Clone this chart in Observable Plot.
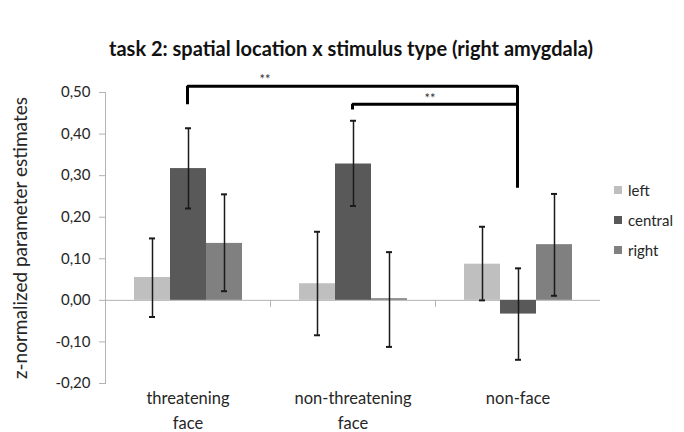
<!DOCTYPE html>
<html>
<head>
<meta charset="utf-8">
<script src="https://cdn.jsdelivr.net/npm/d3@7"></script>
<script src="https://cdn.jsdelivr.net/npm/@observablehq/plot@0.6"></script>
<style>
  html, body { margin: 0; padding: 0; background: #fff; }
  body { width: 684px; height: 432px; overflow: hidden; font-family: Lato, "Open Sans", sans-serif; color: #262626; }
  #title { height: 62px; box-sizing: border-box; padding-top: 38px; padding-left: 18px; text-align: center;
           font: bold 20px Lato, sans-serif; line-height: 1; color: #111; white-space: nowrap; }
  #row { display: flex; flex-direction: row; }
  #chart { position: relative; width: 600px; height: 370px; }
  #chart svg { position: absolute; left: 0; top: 0; }
  #legend { margin-top: 113px; margin-left: 14px; }
  #legend .lg-swatch { height: 30px !important; display: flex; align-items: center; padding: 0 !important; margin: 0 !important; }
  #legend .lg-swatches { font-family: Lato, sans-serif !important; font-size: 15px !important; color: #262626; margin: 0; }
  #legend .lg-swatch > svg { margin-right: 6px !important; }
  g[aria-label="y-axis label"] { font-size: 19px; }
</style>
</head>
<body>
<div id="title">task 2: spatial location x stimulus type (right amygdala)</div>
<div id="row">
  <div id="chart"></div>
  <div id="legend"></div>
</div>
<script>
// ---- data ----
const categories = ["threatening face", "non-threatening face", "non-face"];
const categoryLabels = ["threatening\nface", "non-threatening\nface", "non-face"];
const locations = ["left", "central", "right"];
const barColors = ["#bfbfbf", "#595959", "#808080"];

const leftMeans    = [0.055, 0.040, 0.087];
const centralMeans = [0.317, 0.328, -0.033];
const rightMeans   = [0.137, 0.004, 0.134];

const leftLow     = [-0.040, -0.084, 0.000];
const leftHigh    = [0.149, 0.165, 0.177];
const centralLow  = [0.221, 0.227, -0.143];
const centralHigh = [0.414, 0.432, 0.077];
const rightLow    = [0.022, -0.112, 0.011];
const rightHigh   = [0.255, 0.116, 0.256];

const yTicks = [-0.2, -0.1, 0, 0.1, 0.2, 0.3, 0.4, 0.5];
const yDomain = [-0.2, 0.5];
const yLabel = "z-normalized parameter estimates";

// significance brackets (between central bars)
const outerBracketCats   = ["threatening face", "threatening face", "non-face", "non-face"];
const outerBracketLevels = [0.472, 0.515, 0.515, 0.271];
const innerBracketCats   = ["non-threatening face", "non-threatening face", "non-face"];
const innerBracketLevels = [0.459, 0.472, 0.472];
const starCats   = ["threatening face", "non-threatening face"];
const starLevels = [0.537, 0.493];
const starText = "**";

// ---- tables ----
const means = {left: leftMeans, central: centralMeans, right: rightMeans};
const lows  = {left: leftLow, central: centralLow, right: rightLow};
const highs = {left: leftHigh, central: centralHigh, right: rightHigh};
const rows = categories.flatMap((cat, i) => locations.map(loc => ({
  cat, loc, value: means[loc][i], lo: lows[loc][i], hi: highs[loc][i]
})));
const outerPts = outerBracketCats.map((cat, i) => ({cat, v: outerBracketLevels[i]}));
const innerPts = innerBracketCats.map((cat, i) => ({cat, v: innerBracketLevels[i]}));
const stars = starCats.map((cat, i) => ({cat, v: starLevels[i]}));

const fmt = d => d3.format(".2f")(d).replace(".", ",").replace("−", "-");

const W = 600, H = 370, ML = 104, MR = 0, MT = 30, MB = 49;
const axisGray = "#b3b3b3";
const ink = "#1a1a1a";

// category tick marks hanging below the zero line, at the facet boundaries
const plotH = H - MT - MB;
const zeroFromTop = (yDomain[1] - 0) / (yDomain[1] - yDomain[0]) * plotH;
const catTickLen = 6;

const main = Plot.plot({
  width: W, height: H,
  marginLeft: ML, marginRight: MR, marginTop: MT, marginBottom: MB,
  style: {fontFamily: "Lato, sans-serif", fontSize: "15px", color: "#262626", background: "transparent", overflow: "visible"},
  fx: {domain: categories, padding: 0},
  x: {domain: locations, paddingInner: 0, paddingOuter: 0.743, axis: null},
  y: {domain: yDomain},
  color: {domain: locations, range: barColors},
  marks: [
    Plot.frame({anchor: "left", facetAnchor: "left", stroke: axisGray}),
    Plot.frame({anchor: "left", stroke: axisGray, insetTop: zeroFromTop, insetBottom: plotH - zeroFromTop - catTickLen}),
    Plot.axisY({ticks: yTicks, tickFormat: fmt, tickSize: 6, tickPadding: 9,
      stroke: axisGray, fill: "#262626",
      label: yLabel, labelAnchor: "center", labelOffset: 92, labelArrow: "none"}),
    Plot.axisFx({anchor: "bottom", tickFormat: d => categoryLabels[categories.indexOf(d)], tickSize: 0, tickPadding: 2,
      lineHeight: 1.55, fontSize: 16.5, label: null, fill: "#262626"}),
    Plot.ruleY([0], {stroke: axisGray}),
    Plot.barY(rows, {fx: "cat", x: "loc", y: "value", fill: "loc"}),
    Plot.ruleX(rows, {fx: "cat", x: "loc", y1: "lo", y2: "hi", stroke: ink, strokeWidth: 1.5}),
    Plot.tickY(rows, {fx: "cat", x: "loc", y: "lo", insetLeft: 15, insetRight: 15, stroke: ink, strokeWidth: 2}),
    Plot.tickY(rows, {fx: "cat", x: "loc", y: "hi", insetLeft: 15, insetRight: 15, stroke: ink, strokeWidth: 2}),
    Plot.text(stars, {fx: "cat", y: "v", text: () => starText, frameAnchor: "right", fontSize: 13, fill: "#333", dy: 3})
  ]
});

const overlay = Plot.plot({
  width: W, height: H,
  marginLeft: ML, marginRight: MR, marginTop: MT, marginBottom: MB,
  style: {background: "transparent", overflow: "visible", pointerEvents: "none"},
  x: {type: "point", domain: categories, padding: 0.5, axis: null},
  y: {domain: yDomain, axis: null},
  marks: [
    Plot.line(outerPts, {x: "cat", y: "v", stroke: "#000", strokeWidth: 3, strokeLinejoin: "miter", strokeLinecap: "butt"}),
    Plot.line(innerPts, {x: "cat", y: "v", stroke: "#000", strokeWidth: 3, strokeLinejoin: "miter", strokeLinecap: "butt"})
  ]
});

const chart = document.getElementById("chart");
chart.appendChild(main);
chart.appendChild(overlay);

const legend = main.legend("color", {
  legend: "swatches", columns: 1, swatchSize: 8, className: "lg",
  style: {fontFamily: "Lato, sans-serif", fontSize: "15px"}
});
document.getElementById("legend").appendChild(legend);
</script>
</body>
</html>
